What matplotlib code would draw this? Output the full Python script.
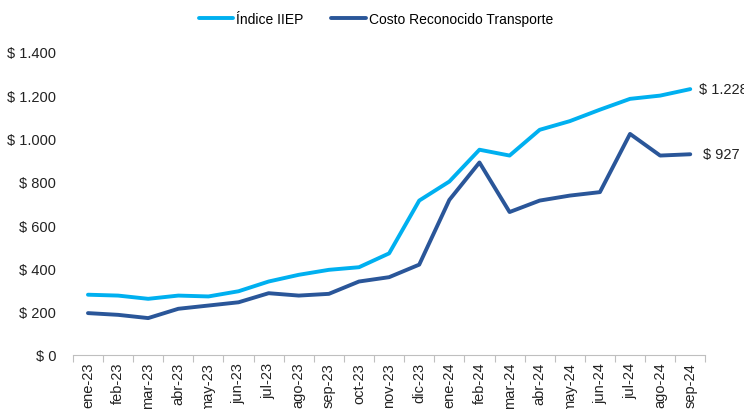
import matplotlib
matplotlib.use("Agg")
import matplotlib.pyplot as plt
from matplotlib.ticker import FuncFormatter, FixedLocator

meses = ["ene-23", "feb-23", "mar-23", "abr-23", "may-23", "jun-23", "jul-23",
         "ago-23", "sep-23", "oct-23", "nov-23", "dic-23", "ene-24", "feb-24",
         "mar-24", "abr-24", "may-24", "jun-24", "jul-24", "ago-24", "sep-24"]

indice_iiep = [278, 274, 259, 274, 270, 294, 339, 370, 393, 405, 469, 713,
               801, 948, 921, 1040, 1080, 1133, 1183, 1198, 1228]
costo_transporte = [193, 185, 170, 213, 228, 243, 285, 274, 282, 339, 359, 417,
                    716, 889, 660, 713, 736, 752, 1021, 921, 927]

plt.rcParams['font.family'] = ['Liberation Sans', 'DejaVu Sans']

c_claro = "#00B0F0"
c_oscuro = "#2A5699"

fig = plt.figure(figsize=(7.44, 4.10), dpi=100)
ax = fig.add_axes([0.098, 0.132, 0.85, 0.739])

x = list(range(len(meses)))
ax.plot(x, indice_iiep, color=c_claro, lw=2.8, label="Índice IIEP", solid_capstyle="round")
ax.plot(x, costo_transporte, color=c_oscuro, lw=2.8, label="Costo Reconocido Transporte",
        solid_capstyle="round")

ax.set_xlim(-0.5, len(meses) - 0.5)
ax.set_ylim(0, 1400)
ax.set_yticks(range(0, 1401, 200))
ax.yaxis.set_major_formatter(FuncFormatter(lambda v, p: "$ " + f"{int(v):,}".replace(",", ".")))

ax.set_xticks(x)
ax.set_xticklabels(meses, rotation=90, fontsize=10.5, color="#222222")
ax.xaxis.set_minor_locator(FixedLocator([i - 0.5 for i in range(len(meses) + 1)]))
ax.tick_params(axis="x", which="major", length=0, pad=5)
ax.tick_params(axis="x", which="minor", length=5, color="#BFBFBF", width=0.8)
ax.tick_params(axis="y", length=0, labelsize=10.5, pad=12, labelcolor="#222222")

for s in ["top", "right", "left"]:
    ax.spines[s].set_visible(False)
ax.spines["bottom"].set_color("#BFBFBF")
ax.spines["bottom"].set_linewidth(0.8)

ax.annotate("$ " + f"{indice_iiep[-1]:,}".replace(",", "."), (x[-1], indice_iiep[-1]),
            xytext=(6, 0), textcoords="offset points", va="center", fontsize=10.5, color="#222222",
            annotation_clip=False)
ax.annotate("$ " + f"{costo_transporte[-1]:,}".replace(",", "."), (x[-1], costo_transporte[-1]),
            xytext=(9, 0), textcoords="offset points", va="center", fontsize=10.5, color="#222222",
            annotation_clip=False)

fig.legend(loc="upper center", bbox_to_anchor=(0.505, 1.0), ncol=2, frameon=False,
           fontsize=10, handlelength=2.5, columnspacing=2.0, handletextpad=0.2)

fig.savefig("out.png", dpi=100)
